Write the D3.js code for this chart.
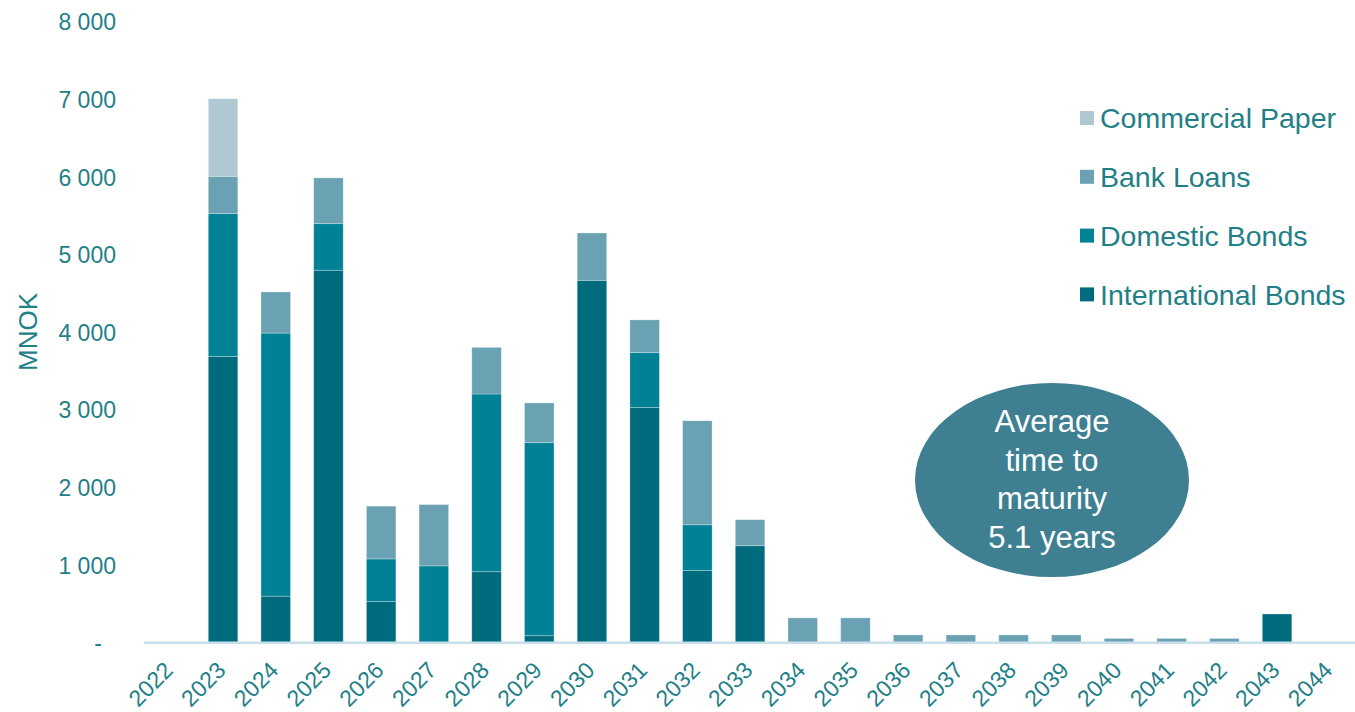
<!DOCTYPE html>
<html>
<head>
<meta charset="utf-8">
<script src="https://cdn.jsdelivr.net/npm/d3@7"></script>
<style>
  body { margin: 0; background: #fff; }
  text { font-family: "Liberation Sans", Arial, sans-serif; }
</style>
</head>
<body>
<div id="chart"></div>
<script>
// data (MNOK)
const years = ["2022","2023","2024","2025","2026","2027","2028","2029","2030","2031","2032","2033",
  "2034","2035","2036","2037","2038","2039","2040","2041","2042","2043","2044"];
const internationalBonds = [0, 3690, 600, 4800, 530, 0, 915, 90, 4670, 3030, 930, 1250, 0, 0, 0, 0, 0, 0, 0, 0, 0, 370, 0];
const domesticBonds      = [0, 1840, 3390, 600, 550, 990, 2290, 2490, 0, 710, 590, 0, 0, 0, 0, 0, 0, 0, 0, 0, 0, 0, 0];
const bankLoans          = [0, 480, 530, 590, 680, 790, 600, 510, 610, 420, 1340, 335, 320, 320, 100, 100, 100, 100, 55, 55, 55, 0, 0];
const commercialPaper    = [0, 1000, 0, 0, 0, 0, 0, 0, 0, 0, 0, 0, 0, 0, 0, 0, 0, 0, 0, 0, 0, 0, 0];
const seriesNames = ["International Bonds", "Domestic Bonds", "Bank Loans", "Commercial Paper"];
const yTicks = [0, 1000, 2000, 3000, 4000, 5000, 6000, 7000, 8000];
const ellipseText = ["Average", "time to", "maturity", "5.1 years"];

const colors = {
  "International Bonds": "#006b7d",
  "Domestic Bonds": "#008196",
  "Bank Loans": "#6aa2b3",
  "Commercial Paper": "#afc8d2"
};
const textColor = "#1f8087";

const W = 1355, H = 712;
const svg = d3.select("#chart").append("svg")
  .attr("width", W).attr("height", H);

const table = years.map((y, i) => ({
  year: y,
  "International Bonds": internationalBonds[i],
  "Domestic Bonds": domesticBonds[i],
  "Bank Loans": bankLoans[i],
  "Commercial Paper": commercialPaper[i]
}));
const stacked = d3.stack().keys(seriesNames)(table);

const x = d3.scaleBand()
  .domain(years)
  .range([144, 144 + 23 * 52.7])
  .paddingInner(0.44)
  .paddingOuter(0.22);

const y = d3.scaleLinear()
  .domain([0, 8000])
  .range([642.7, 21.9]);

// y axis labels (no line)
const yAxis = svg.append("g")
  .attr("transform", "translate(116,0)")
  .call(d3.axisLeft(y).tickValues(yTicks).tickSize(0).tickPadding(0)
    .tickFormat(d => d === 0 ? "-" : d3.format(",")(d).replace(",", " ")));
yAxis.select(".domain").remove();
yAxis.selectAll("text")
  .attr("fill", textColor)
  .style("font-size", "23px")
  .attr("x", d => d === 0 ? -14 : 0)
  .attr("dy", "0.35em");

svg.append("text")
  .attr("transform", "translate(37,332) rotate(-90)")
  .attr("text-anchor", "middle")
  .attr("fill", textColor)
  .style("font-size", "26px")
  .text("MNOK");

// bars
svg.append("g").selectAll("g")
  .data(stacked)
  .join("g")
    .attr("fill", d => colors[d.key])
  .selectAll("rect")
  .data(d => d.filter(s => s[1] - s[0] > 0))
  .join("rect")
    .attr("x", d => x(d.data.year))
    .attr("y", d => y(d[1]))
    .attr("width", x.bandwidth())
    .attr("height", d => y(d[0]) - y(d[1]))
    .attr("stroke", "#ffffff")
    .attr("stroke-opacity", 0.35)
    .attr("stroke-width", 0.8);

// x axis
const xAxis = svg.append("g")
  .attr("transform", `translate(0,${y(0)})`)
  .call(d3.axisBottom(x).tickSize(0).tickPadding(0));
xAxis.select(".domain")
  .attr("stroke", "#c8dfec")
  .attr("stroke-width", 2.5)
  .attr("d", `M144,0H${W}`);
xAxis.selectAll("text")
  .attr("fill", textColor)
  .style("font-size", "23px")
  .attr("text-anchor", "end")
  .attr("y", 0)
  .attr("dy", 0)
  .attr("transform", "translate(4,29) rotate(-45)");

// legend
const legendOrder = ["Commercial Paper", "Bank Loans", "Domestic Bonds", "International Bonds"];
const legend = svg.append("g").selectAll("g")
  .data(legendOrder)
  .join("g")
    .attr("transform", (d, i) => `translate(1080,${118 + i * 58.8})`);
legend.append("rect")
  .attr("x", 0).attr("y", -7).attr("width", 14).attr("height", 14)
  .attr("fill", d => colors[d]);
legend.append("text")
  .attr("x", 20).attr("dy", "0.36em")
  .attr("fill", textColor)
  .style("font-size", "28.5px")
  .text(d => d);

// average maturity bubble
svg.append("ellipse")
  .attr("cx", 1052).attr("cy", 480)
  .attr("rx", 137).attr("ry", 97)
  .attr("fill", "#3f7f92");
svg.append("g").selectAll("text")
  .data(ellipseText)
  .join("text")
    .attr("x", 1052)
    .attr("y", (d, i) => 421 + i * 38.5)
    .attr("dy", "0.36em")
    .attr("text-anchor", "middle")
    .attr("fill", "#ffffff")
    .style("font-size", "31px")
    .text(d => d);
</script>
</body>
</html>
